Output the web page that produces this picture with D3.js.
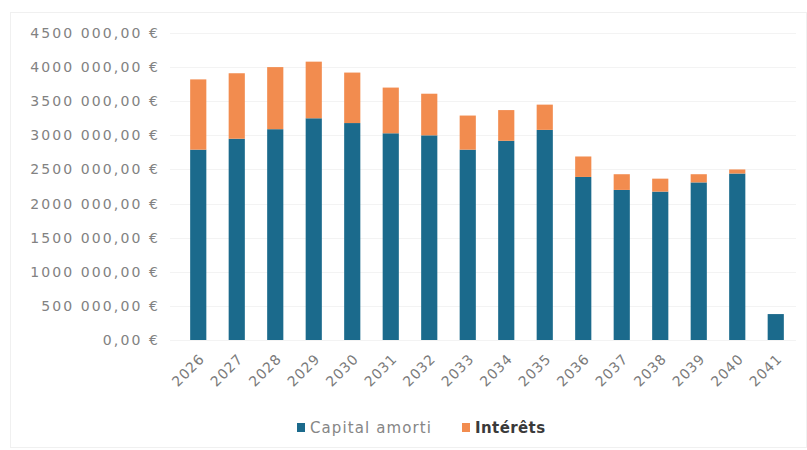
<!DOCTYPE html>
<html>
<head>
<meta charset="utf-8">
<script src="https://cdn.jsdelivr.net/npm/d3@7"></script>
<style>
body { margin: 0; background: #fff; }
text { font-family: "DejaVu Sans", sans-serif; }
</style>
</head>
<body>
<div id="chart"></div>
<script>
// data
var years = ["2026", "2027", "2028", "2029", "2030", "2031", "2032", "2033",
             "2034", "2035", "2036", "2037", "2038", "2039", "2040", "2041"];
var capitalAmorti = [2790000, 2950000, 3090000, 3250000, 3180000, 3030000, 3000000, 2790000,
                     2920000, 3080000, 2390000, 2200000, 2175000, 2310000, 2440000, 380000];
var interets = [1030000, 960000, 910000, 830000, 740000, 670000, 610000, 500000,
                450000, 370000, 300000, 230000, 190000, 120000, 60000, 0];
var yTicks = [0, 500000, 1000000, 1500000, 2000000, 2500000, 3000000, 3500000, 4000000, 4500000];
var yTickLabels = ["0,00 €", "500 000,00 €", "1000 000,00 €", "1500 000,00 €", "2000 000,00 €",
                   "2500 000,00 €", "3000 000,00 €", "3500 000,00 €", "4000 000,00 €", "4500 000,00 €"];
var seriesNames = ["Capital amorti", "Intérêts"];
var colors = ["#1b6a8c", "#f28c4f"];

var width = 807, height = 450;

var svg = d3.select("#chart")
  .append("svg")
  .attr("width", width)
  .attr("height", height);

// faint frame around the chart
svg.append("rect")
  .attr("x", 10.5).attr("y", 12.5)
  .attr("width", 796).attr("height", 435)
  .attr("fill", "none")
  .attr("stroke", "#f0f0f0");

var table = years.map(function(y, i) {
  return { year: y, capital: capitalAmorti[i], interets: interets[i] };
});

var x = d3.scaleBand()
  .domain(years)
  .range([179, 795])
  .paddingInner(0.58)
  .paddingOuter(0.29);

var y = d3.scaleLinear()
  .domain([0, 4500000])
  .range([340, 33]);

// gridlines
svg.append("g")
  .selectAll("line")
  .data(yTicks)
  .enter().append("line")
  .attr("x1", 170).attr("x2", 796)
  .attr("y1", function(d) { return Math.round(y(d)) + 0.5; })
  .attr("y2", function(d) { return Math.round(y(d)) + 0.5; })
  .attr("stroke", "#f3f3f3");

// y axis labels
var yAxis = svg.append("g")
  .attr("transform", "translate(160,0)")
  .call(d3.axisLeft(y).tickValues(yTicks).tickSize(0).tickPadding(0)
    .tickFormat(function(d, i) { return yTickLabels[i]; }));
yAxis.select(".domain").remove();
yAxis.selectAll("text")
  .attr("fill", "#828282")
  .style("font-size", "14px")
  .style("letter-spacing", "2.1px");

// stacked bars
var stack = d3.stack().keys(["capital", "interets"]);
var layers = stack(table);

svg.append("g")
  .selectAll("g")
  .data(layers)
  .enter().append("g")
  .attr("fill", function(d, i) { return colors[i]; })
  .selectAll("rect")
  .data(function(d) { return d; })
  .enter().append("rect")
  .attr("x", function(d) { return x(d.data.year); })
  .attr("y", function(d) { return y(d[1]); })
  .attr("height", function(d) { return y(d[0]) - y(d[1]); })
  .attr("width", x.bandwidth());

// x axis labels, rotated
var xAxis = svg.append("g")
  .attr("transform", "translate(0,340)")
  .call(d3.axisBottom(x).tickSize(0).tickPadding(0));
xAxis.select(".domain").remove();
xAxis.selectAll("text")
  .attr("fill", "#7a7a7a")
  .style("font-size", "14px")
  .style("letter-spacing", "0.8px")
  .attr("text-anchor", "end")
  .attr("dy", "0")
  .attr("transform", "translate(7,20) rotate(-45)");

// legend
var legendX = [297, 462];
var legend = svg.append("g");
seriesNames.forEach(function(name, i) {
  legend.append("rect")
    .attr("x", legendX[i]).attr("y", 423)
    .attr("width", 8).attr("height", 9)
    .attr("fill", colors[i]);
  legend.append("text")
    .attr("x", legendX[i] + 13).attr("y", 433)
    .attr("fill", i == 0 ? "#868686" : "#3a3a3a")
    .style("font-size", "15px")
    .style("font-weight", i == 0 ? "normal" : "bold")
    .style("letter-spacing", i == 0 ? "1.1px" : "0.4px")
    .text(name);
});
</script>
</body>
</html>
